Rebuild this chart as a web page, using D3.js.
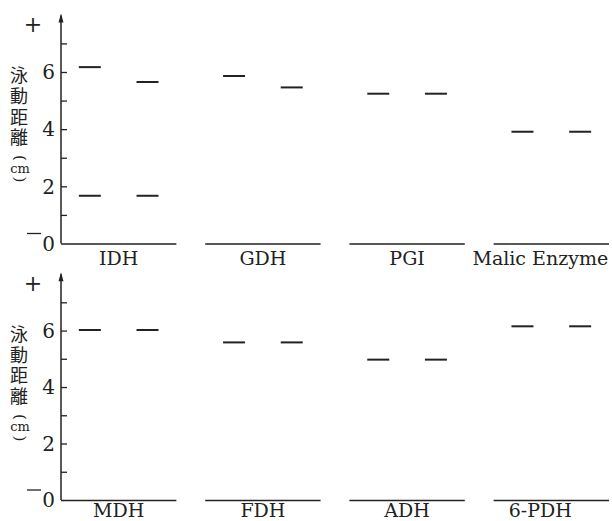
<!DOCTYPE html>
<html>
<head>
<meta charset="utf-8">
<script src="https://cdn.jsdelivr.net/npm/d3@7"></script>
<style>
  body { margin: 0; background: #fff; }
  svg { display: block; }
</style>
</head>
<body>
<div id="chart"></div>
<script>
// enzymes per row
var topEnzymes = ['IDH', 'GDH', 'PGI', 'Malic Enzyme'];
var bottomEnzymes = ['MDH', 'FDH', 'ADH', '6-PDH'];
var lanes = ['1', '2'];

// band positions (cm): [enzyme, lane, value]
var topBands = [
  ['IDH', '1', 6.17], ['IDH', '1', 1.67],
  ['IDH', '2', 5.65], ['IDH', '2', 1.67],
  ['GDH', '1', 5.86], ['GDH', '2', 5.46],
  ['PGI', '1', 5.24], ['PGI', '2', 5.24],
  ['Malic Enzyme', '1', 3.91], ['Malic Enzyme', '2', 3.91]
];
var bottomBands = [
  ['MDH', '1', 6.02], ['MDH', '2', 6.02],
  ['FDH', '1', 5.58], ['FDH', '2', 5.58],
  ['ADH', '1', 4.97], ['ADH', '2', 4.97],
  ['6-PDH', '1', 6.15], ['6-PDH', '2', 6.15]
];
var yTicks = [0, 2, 4, 6];
var yMinorTicks = [1, 3, 5, 7];
var yTitle = '泳動距離';

var width = 612, height = 521;
var serif = '"DejaVu Serif", serif';
var cjk = '"Noto Sans CJK JP", sans-serif';

var svg = d3.select('#chart').append('svg')
    .attr('width', width)
    .attr('height', height);

var x = d3.scaleBand().range([61, 609]).paddingInner(0.2).paddingOuter(0);

function drawRow(enzymes, bands, y0, y7, labelGap) {
  x.domain(enzymes);
  var y = d3.scaleLinear().domain([0, 7]).range([y0, y7]);
  var lane = d3.scalePoint().domain(lanes).range([0, x.bandwidth()]).padding(0.5);
  var g = svg.append('g');

  // y axis with arrow
  var axisX = x(enzymes[0]);
  g.append('line')
      .attr('x1', axisX).attr('x2', axisX)
      .attr('y1', y0).attr('y2', y7 - 28)
      .attr('stroke', '#222').attr('stroke-width', 1.5);
  g.append('path')
      .attr('d', 'M' + axisX + ',' + (y7 - 30) + 'l-2.5,9l5,0z')
      .attr('fill', '#222');

  var yAxis = d3.axisRight(y).tickValues(yTicks.concat(yMinorTicks)).tickSize(6).tickFormat('');
  var ax = g.append('g').attr('transform', 'translate(' + axisX + ',0)').call(yAxis);
  ax.select('.domain').remove();
  ax.selectAll('.tick line').attr('stroke', '#222').attr('stroke-width', 1.3);
  ax.selectAll('.tick').filter(function(d) { return d === 0; }).remove();

  g.selectAll('.ylab').data(yTicks).enter().append('text')
      .attr('x', axisX - 6)
      .attr('y', function(d) { return y(d); })
      .attr('dy', '0.36em')
      .attr('text-anchor', 'end')
      .attr('font-family', serif)
      .attr('font-size', 20)
      .attr('fill', '#222')
      .text(function(d) { return d; });

  // + and - signs
  g.append('text').attr('x', 33).attr('y', y(7) - 19).attr('dy', '0.35em')
      .attr('text-anchor', 'middle').attr('font-family', serif).attr('font-size', 22)
      .attr('fill', '#222').text('+');
  g.append('line').attr('x1', 27).attr('x2', 41)
      .attr('y1', y(0) - 10).attr('y2', y(0) - 10)
      .attr('stroke', '#222').attr('stroke-width', 1.3);

  // vertical title
  var t0 = y(7) + 32.6;
  g.append('text')
      .attr('x', 19)
      .attr('y', t0 - 9.5)
      .style('writing-mode', 'vertical-rl')
      .style('letter-spacing', '2.6px')
      .attr('font-family', cjk)
      .attr('font-size', 18)
      .attr('fill', '#222')
      .text(yTitle);
  var ty = t0 + 4 * 20.6;
  g.append('text')
      .attr('transform', 'translate(20,' + (ty - 0.5) + ') rotate(90)')
      .attr('dy', '0.32em')
      .attr('text-anchor', 'middle').attr('font-family', serif).attr('font-size', 15)
      .attr('fill', '#222').text('(');
  g.append('text').attr('x', 20).attr('y', ty + 10).attr('dy', '0.32em')
      .attr('text-anchor', 'middle').attr('font-family', serif).attr('font-size', 13)
      .attr('fill', '#222').text('cm');
  g.append('text')
      .attr('transform', 'translate(20,' + (ty + 21) + ') rotate(90)')
      .attr('dy', '0.32em')
      .attr('text-anchor', 'middle').attr('font-family', serif).attr('font-size', 15)
      .attr('fill', '#222').text(')');

  // baselines under each enzyme
  g.selectAll('.base').data(enzymes).enter().append('line')
      .attr('x1', function(d) { return x(d); })
      .attr('x2', function(d) { return x(d) + x.bandwidth(); })
      .attr('y1', y0 + 0.5).attr('y2', y0 + 0.5)
      .attr('stroke', '#222').attr('stroke-width', 1.6);

  g.selectAll('.enz').data(enzymes).enter().append('text')
      .attr('x', function(d, i) {
        var c = x(d) + x.bandwidth() / 2;
        return i === enzymes.length - 1 ? c - 11 : c;
      })
      .attr('y', y0 + labelGap)
      .attr('text-anchor', 'middle')
      .attr('font-family', serif)
      .attr('font-size', 19)
      .attr('fill', '#222')
      .text(function(d) { return d; });

  // gel bands
  g.selectAll('.band').data(bands).enter().append('line')
      .attr('x1', function(d) { return x(d[0]) + lane(d[1]) - 11; })
      .attr('x2', function(d) { return x(d[0]) + lane(d[1]) + 11; })
      .attr('y1', function(d) { return y(d[2]); })
      .attr('y2', function(d) { return y(d[2]); })
      .attr('stroke', '#222').attr('stroke-width', 2);
}

drawRow(topEnzymes, topBands, 243.5, 43.4, 21);
drawRow(bottomEnzymes, bottomBands, 500, 302.3, 17);
</script>
</body>
</html>
